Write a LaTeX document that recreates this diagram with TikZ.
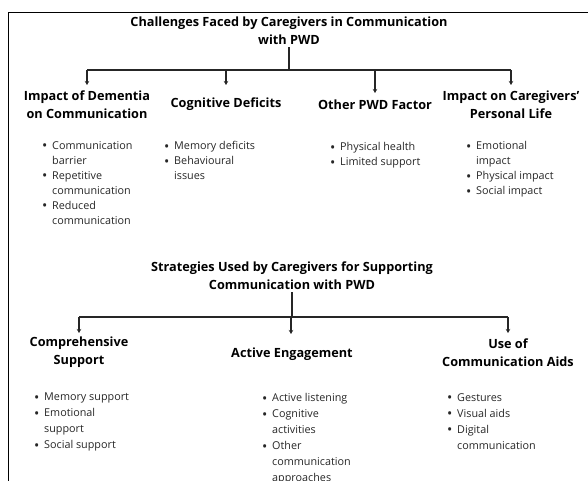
\documentclass[tikz,border=0pt]{standalone}
\usepackage{fontspec}
\setmainfont{Open Sans}
\usetikzlibrary{arrows.meta}

\newcommand{\bul}{\makebox[10pt][l]{\raisebox{-1.6pt}{\fontsize{14}{14}\selectfont\textbullet}}}
\newcommand{\ind}{\hspace*{10pt}}

\begin{document}
\begin{tikzpicture}[x=1pt,y=-1pt]
    \tikzset{
        head/.style={font=\bfseries\fontsize{12.7}{18}\selectfont, align=center, inner sep=2pt},
        items/.style={font=\fontsize{10.8}{15}\selectfont, align=left, inner sep=0pt,
            anchor=north west, text=black!85},
        link/.style={draw=black!85, line width=1.1pt},
        tip/.style={link, -{Stealth[length=4pt,width=4.5pt]}}
    }
    \useasboundingbox (0,0) rectangle (588,481);
    \draw[line width=1.2pt] (8.5,481) |- (588,12.5);

    % challenges
    \node[head] (chal) at (289,31) {Challenges Faced by Caregivers in Communication\\with PWD};
    \node[head] (dem) at (87,104.5) {Impact of Dementia\\on Communication};
    \node[head] (cog) at (226,104.5) {Cognitive Deficits};
    \node[head] (oth) at (375,104.5) {Other PWD Factor};
    \node[head] (car) at (511,104.5) {Impact on Caregivers'\\Personal Life};

    \coordinate (chbar) at (289,70);
    \draw[link] (chal.south) -- (chbar);
    \draw[link] (dem |- chbar) -- (car |- chbar);
    \draw[tip] (dem |- chbar) -- ++(0,15);
    \draw[tip] (cog |- chbar) -- ++(0,15);
    \draw[tip] (oth |- chbar) -- ++(0,23);
    \draw[tip] (car |- chbar) -- ++(0,15);

    \node[items] (demlist) at (42,141) {\bul Communication\\\ind barrier\\\bul Repetitive\\\ind communication\\\bul Reduced\\\ind communication};
    \node[items] (coglist) at (164,141) {\bul Memory deficits\\\bul Behavioural\\\ind issues};
    \node[items] (othlist) at (330,142) {\bul Physical health\\\bul Limited support};
    \node[items] (carlist) at (466,141) {\bul Emotional\\\ind impact\\\bul Physical impact\\\bul Social impact};

    % strategies
    \node[head] (strat) at (292,276) {Strategies Used by Caregivers for Supporting\\Communication with PWD};
    \node[head] (comp) at (79,352.5) {Comprehensive\\Support};
    \node[head] (act) at (292,354) {Active Engagement};
    \node[head] (aid) at (508,352.5) {Use of\\Communication Aids};

    \coordinate (stbar) at (291,317);
    \draw[link] (strat.south) -- (strat.south |- stbar);
    \draw[link] (comp |- stbar) -- (aid |- stbar);
    \draw[tip] (comp |- stbar) -- ++(0,16);
    \draw[tip] (stbar) -- ++(0,17);
    \draw[tip] (aid |- stbar) -- ++(0,16);

    \node[items, font=\fontsize{10.8}{16}\selectfont] (complist) at (34,393) {\bul Memory support\\\bul Emotional\\\ind support\\\bul Social support};
    \node[items, font=\fontsize{10.8}{16}\selectfont] (actlist) at (262,393) {\bul Active listening\\\bul Cognitive\\\ind activities\\\bul Other\\\ind communication\\\ind approaches};
    \node[items, font=\fontsize{10.8}{16}\selectfont] (aidlist) at (447,393) {\bul Gestures\\\bul Visual aids\\\bul Digital\\\ind communication};
\end{tikzpicture}
\end{document}
